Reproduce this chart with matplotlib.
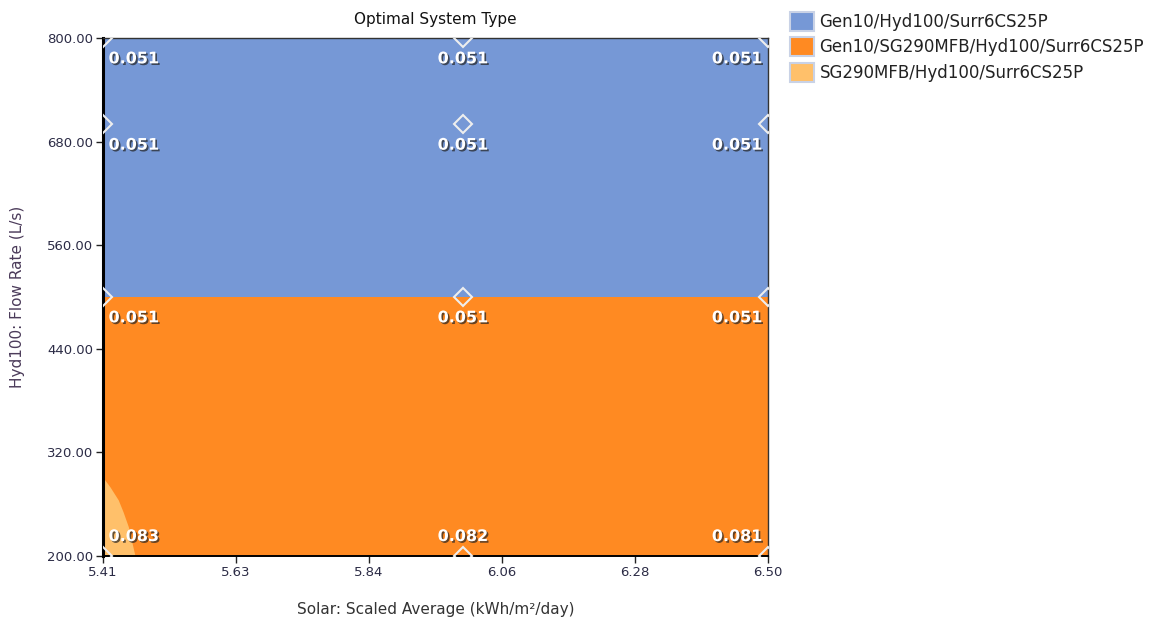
import matplotlib.pyplot as plt
import matplotlib.patheffects as pe
import numpy as np
from matplotlib.patches import Patch

# sensitivity grid
solar = [5.41, 6.00, 6.50]
flow = [800, 700, 500, 200]
coe = [
    [0.051, 0.051, 0.051],
    [0.051, 0.051, 0.051],
    [0.051, 0.051, 0.051],
    [0.083, 0.082, 0.081],
]

systems = [
    "Gen10/Hyd100/Surr6CS25P",
    "Gen10/SG290MFB/Hyd100/Surr6CS25P",
    "SG290MFB/Hyd100/Surr6CS25P",
]
colors = ["#7698d6", "#ff8a22", "#ffc06a"]

# flow rate where the optimal system switches from hydro-only to hydro + PV
switch_flow = 500
# edge of the PV-only region in the low-solar, low-flow corner
wedge_flow = [291, 280, 265, 251, 234, 200]
wedge_solar = [5.41, 5.4215, 5.435, 5.443, 5.4515, 5.4625]

x_ticks = ["5.41", "5.63", "5.84", "6.06", "6.28", "6.50"]
y_ticks = [200, 320, 440, 560, 680, 800]

fig = plt.figure(figsize=(11.56, 6.22), dpi=100)
ax = fig.add_axes([0.0891, 0.1061, 0.5753, 0.8328])

xmin, xmax = solar[0], solar[-1]
ymin, ymax = min(flow), max(flow)

ax.fill_between([xmin, xmax], switch_flow, ymax, color=colors[0], lw=0)
ax.fill_between([xmin, xmax], ymin, switch_flow, color=colors[1], lw=0)
ax.fill_betweenx(wedge_flow, xmin, wedge_solar, color=colors[2], lw=0)

ax.set_xlim(xmin, xmax)
ax.set_ylim(ymin, ymax)

# data point markers, cut off at the plot border
gx, gy = np.meshgrid(solar, flow)
pts, = ax.plot(gx.ravel(), gy.ravel(), ls="none", marker="D", ms=9, mfc="none",
               mec="#eeeeee", mew=1.5, zorder=3)
pts.set_clip_path(ax.patch)

shadow = [pe.SimplePatchShadow(offset=(1.2, -1.2), shadow_rgbFace="#222222", alpha=0.7), pe.Normal()]
for i, fy in enumerate(flow):
    for j, sx in enumerate(solar):
        if j == 0:
            ha, dx = "left", 4
        elif j == len(solar) - 1:
            ha, dx = "right", -4
        else:
            ha, dx = "center", 0
        dy = 14 if fy == ymin else -15
        ax.annotate(f"{coe[i][j]:.3f}", (sx, fy), xytext=(dx, dy), textcoords="offset points",
                    ha=ha, va="center", color="white", fontsize=11.5, fontweight="bold",
                    path_effects=shadow, zorder=4, annotation_clip=False)

ax.set_xticks(np.linspace(xmin, xmax, len(x_ticks)))
ax.set_xticklabels(x_ticks)
ax.set_yticks(y_ticks)
ax.set_yticklabels([f"{v:.2f}" for v in y_ticks])
ax.tick_params(direction="out", length=5, width=1, colors="#222222", labelsize=9.5,
               labelcolor="#2b2b45", pad=2)

for side in ("left", "bottom"):
    ax.spines[side].set_color("black")
ax.spines["left"].set_linewidth(2.2)
ax.spines["bottom"].set_linewidth(1.4)
for side in ("top", "right"):
    ax.spines[side].set_color("#333333")
    ax.spines[side].set_linewidth(1.0)

ax.set_title("Optimal System Type", fontsize=11, color="#111111", pad=10)
ax.set_xlabel("Solar: Scaled Average (kWh/m²/day)", fontsize=11, color="#333333", labelpad=17)
ax.set_ylabel("Hyd100: Flow Rate (L/s)", fontsize=11, color="#4b3b5a", labelpad=16)

handles = [Patch(facecolor=c, edgecolor="#c9d2e6", linewidth=1.5) for c in colors]
fig.legend(handles, systems, loc="upper left", bbox_to_anchor=(0.678, 0.992), frameon=False,
           fontsize=12, handlelength=1.4, handleheight=1.4, handletextpad=0.35,
           labelspacing=0.38, borderaxespad=0, labelcolor="#222222")

fig.savefig("out.png", dpi=100)
